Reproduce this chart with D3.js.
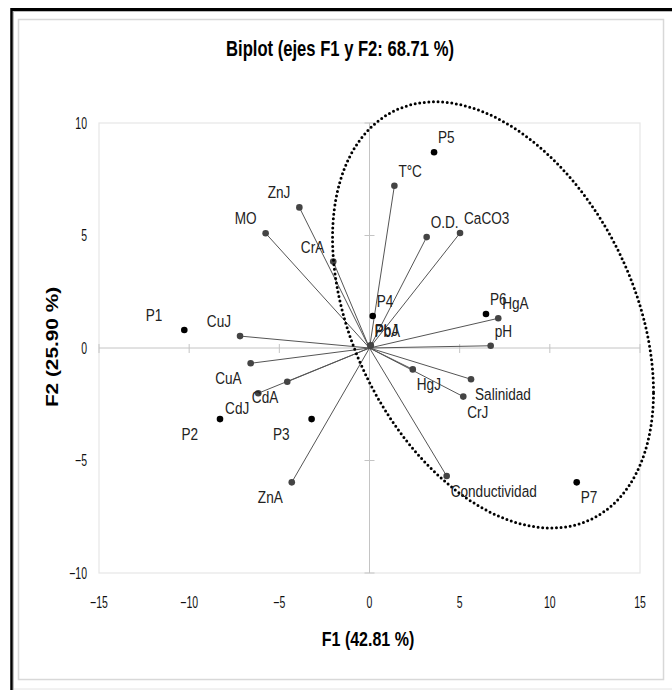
<!DOCTYPE html>
<html>
<head>
<meta charset="utf-8">
<script src="https://cdn.jsdelivr.net/npm/d3@7"></script>
<style>
  html, body { margin: 0; padding: 0; background: #fff; }
  svg { display: block; }
  text { font-family: "Liberation Sans", Arial, sans-serif; }
</style>
</head>
<body>
<svg id="chart" width="672" height="690"></svg>
<script>
// Observations (sites) scores on F1 / F2
const obsNames = ["P1", "P2", "P3", "P4", "P5", "P6", "P7"];
const obsF1 = [-10.27, -8.29, -3.21, 0.18, 3.58, 6.46, 11.49];
const obsF2 = [0.80, -3.16, -3.16, 1.42, 8.70, 1.51, -5.97];

// Variable loadings on F1 / F2
const varNames = ["T°C", "O.D.", "CaCO3", "HgA", "pH", "PbJ", "PbA", "HgJ", "Salinidad", "CrJ",
                  "Conductividad", "ZnJ", "MO", "CrA", "CuJ", "CuA", "CdA", "CdJ", "ZnA"];
const varF1 = [1.38, 3.17, 5.02, 7.14, 6.72, 0.07, 0.05, 2.40, 5.63, 5.20,
               4.28, -3.89, -5.76, -2.01, -7.18, -6.59, -4.56, -6.17, -4.31];
const varF2 = [7.21, 4.93, 5.11, 1.32, 0.10, 0.12, 0.10, -0.95, -1.39, -2.16,
               -5.69, 6.25, 5.10, 3.84, 0.53, -0.68, -1.50, -2.01, -5.97];

// Axis ticks
const xTicks = [-15, -10, -5, 0, 5, 10, 15];
const yTicks = [-10, -5, 0, 5, 10];

// Grouping ellipse (centre, spread and tilt in F1/F2 units)
const ellCenter = [6.85, 1.47];
const ellCov = [[79.2, -30.45], [-30.45, 89.7]];

const titleText = "Biplot (ejes F1 y F2: 68.71 %)";
const xTitle = "F1 (42.81 %)";
const yTitle = "F2 (25.90 %)";

const svg = d3.select("#chart");
const plot = { left: 99, right: 640, top: 123, bottom: 573 };

const x = d3.scaleLinear().domain([-15, 15]).range([plot.left, plot.right]);
const y = d3.scaleLinear().domain([-10, 10]).range([plot.bottom, plot.top]);

// Vertically stretched text helper
function sText(parent, px, py, str, opt) {
  const o = Object.assign({ size: 14, k: 1.25, anchor: "start", weight: "normal", fill: "#111", rotate: 0 }, opt || {});
  const g = parent.append("g")
    .attr("transform", `translate(${px},${py}) rotate(${o.rotate}) scale(${o.rotate ? o.k : 1},${o.rotate ? 1 : o.k})`);
  g.append("text")
    .attr("text-anchor", o.anchor)
    .attr("font-size", o.size)
    .attr("font-weight", o.weight)
    .attr("fill", o.fill)
    .text(str);
  return g;
}

// Frame
svg.append("rect").attr("x", 0).attr("y", 0).attr("width", 672).attr("height", 690).attr("fill", "#fff");
svg.append("line").attr("x1", 11).attr("x2", 672).attr("y1", 9.5).attr("y2", 9.5)
  .attr("stroke", "#000").attr("stroke-width", 3);
svg.append("line").attr("x1", 11.5).attr("x2", 11.5).attr("y1", 8).attr("y2", 690)
  .attr("stroke", "#000").attr("stroke-width", 2.5);
svg.append("line").attr("x1", 13).attr("x2", 672).attr("y1", 11.5).attr("y2", 11.5)
  .attr("stroke", "#bbb").attr("stroke-width", 1);
svg.append("line").attr("x1", 13.5).attr("x2", 13.5).attr("y1", 11).attr("y2", 690)
  .attr("stroke", "#bbb").attr("stroke-width", 1);
svg.append("rect").attr("x", 18.5).attr("y", 19.5).attr("width", 645).attr("height", 660)
  .attr("fill", "none").attr("stroke", "#d8d8d8").attr("stroke-width", 1.5);
svg.append("line").attr("x1", 14).attr("x2", 672).attr("y1", 689).attr("y2", 689)
  .attr("stroke", "#e4e4e4").attr("stroke-width", 1);

// Plot area border
svg.append("rect")
  .attr("x", x(-15)).attr("y", y(10))
  .attr("width", x(15) - x(-15)).attr("height", y(-10) - y(10))
  .attr("fill", "none").attr("stroke", "#e6e6e6").attr("stroke-width", 1.2);

// Axes through the origin
const axisCol = "#c4c4c4";
svg.append("line").attr("x1", x(-15)).attr("x2", x(15)).attr("y1", y(0)).attr("y2", y(0))
  .attr("stroke", axisCol).attr("stroke-width", 1);
svg.append("line").attr("x1", x(0)).attr("x2", x(0)).attr("y1", y(10)).attr("y2", y(-10))
  .attr("stroke", axisCol).attr("stroke-width", 1);

svg.append("g").selectAll("line").data(xTicks).join("line")
  .attr("x1", d => x(d)).attr("x2", d => x(d))
  .attr("y1", y(0) - 4).attr("y2", y(0) + 5)
  .attr("stroke", axisCol).attr("stroke-width", 1);
svg.append("g").selectAll("line").data(yTicks).join("line")
  .attr("x1", x(0) - 5).attr("x2", x(0) + 5)
  .attr("y1", d => y(d)).attr("y2", d => y(d))
  .attr("stroke", axisCol).attr("stroke-width", 1);

// Tick labels
xTicks.forEach(t => sText(svg, x(t), 608, d3.format("d")(t), { size: 10.5, k: 1.55, anchor: "middle" }));
yTicks.forEach(t => sText(svg, 87, y(t) + 5.5, d3.format("d")(t), { size: 10.5, k: 1.55, anchor: "end" }));

// Titles
sText(svg, 340, 56, titleText, { size: 16.6, k: 1.3, anchor: "middle", weight: "bold", fill: "#000" });
sText(svg, 368, 646, xTitle, { size: 16, k: 1.3, anchor: "middle", weight: "bold", fill: "#000" });
sText(svg, 58, 347, yTitle, { size: 16, k: 1.3, anchor: "middle", weight: "bold", fill: "#000", rotate: -90 });

// Variable vectors
const vars = varNames.map((n, i) => ({ name: n, f1: varF1[i], f2: varF2[i] }));
const obs = obsNames.map((n, i) => ({ name: n, f1: obsF1[i], f2: obsF2[i] }));

svg.append("g").selectAll("line").data(vars).join("line")
  .attr("x1", x(0)).attr("y1", y(0))
  .attr("x2", d => x(d.f1)).attr("y2", d => y(d.f2))
  .attr("stroke", "#555").attr("stroke-width", 1);

svg.append("g").selectAll("circle").data(vars).join("circle")
  .attr("cx", d => x(d.f1)).attr("cy", d => y(d.f2)).attr("r", 3.3)
  .attr("fill", "#444");

svg.append("g").selectAll("circle").data(obs).join("circle")
  .attr("cx", d => x(d.f1)).attr("cy", d => y(d.f2)).attr("r", 3.3)
  .attr("fill", "#000");

// Grouping ellipse, dotted
const L11 = Math.sqrt(ellCov[0][0]);
const L21 = ellCov[1][0] / L11;
const L22 = Math.sqrt(ellCov[1][1] - L21 * L21);
const ellPts = d3.range(0, 360, 1).map(a => {
  const t = a * Math.PI / 180;
  return [ellCenter[0] + L11 * Math.cos(t), ellCenter[1] + L21 * Math.cos(t) + L22 * Math.sin(t)];
});
svg.append("path")
  .attr("d", d3.line().x(d => x(d[0])).y(d => y(d[1])).curve(d3.curveLinearClosed)(ellPts))
  .attr("fill", "none").attr("stroke", "#000").attr("stroke-width", 3)
  .attr("stroke-linecap", "round").attr("stroke-dasharray", "0 4.6");

// Point labels
function placeLabel(d, leftGap) {
  const px = x(d.f1), py = y(d.f2);
  const right = d.f1 >= 0;
  const up = d.f2 >= 0;
  const lx = right ? px + 4 : px - leftGap;
  const ly = up ? py - 9 : py + 21;
  sText(svg, lx, ly, d.name, { size: 13.6, k: 1.25, anchor: right ? "start" : "end", fill: "#222" });
}
vars.forEach(d => placeLabel(d, 9));
obs.forEach(d => placeLabel(d, 22));
</script>
</body>
</html>
